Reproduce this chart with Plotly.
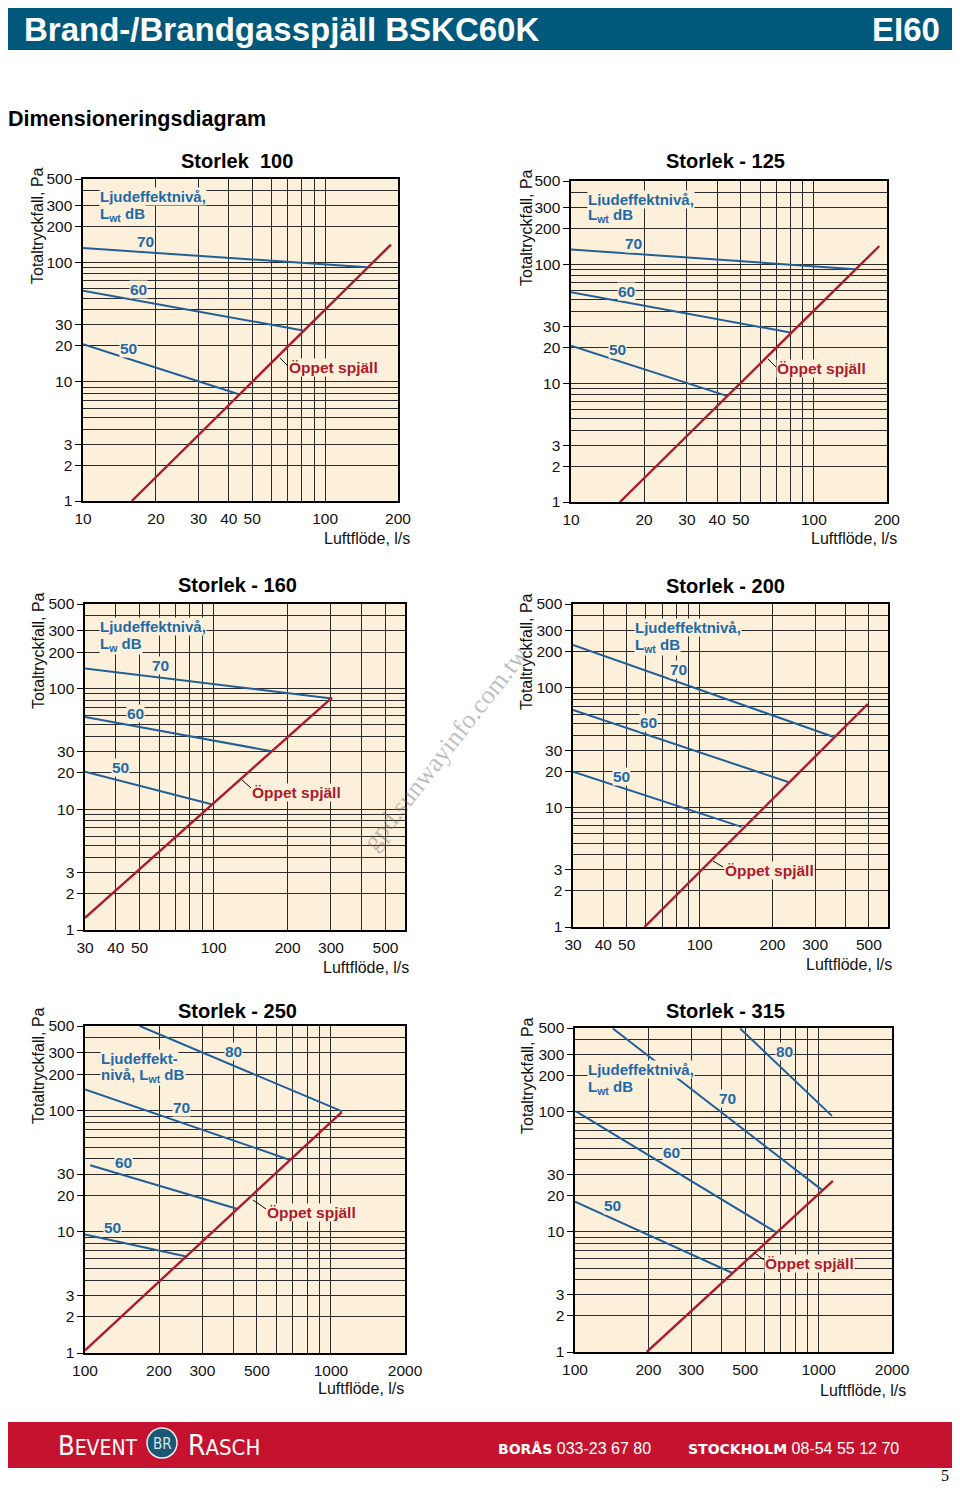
import math
import plotly.graph_objects as go

# The page keeps the browser's default 8px body margin, so the figure is
# sized to fill the 960x1493 window exactly and positions are page - 8.
OFF = 8
FW, FH = 960 - 2 * OFF, 1493 - 2 * OFF

# ---------------- data ----------------
TITLES = ["Storlek\u00a0\u00a0100", "Storlek - 125", "Storlek - 160",
          "Storlek - 200", "Storlek - 250", "Storlek - 315"]

Y_RANGE = [1, 500]
Y_TICKS = [1, 2, 3, 10, 20, 30, 100, 200, 300, 500]
Y_MINOR = [4, 5, 6, 7, 8, 9, 40, 50, 60, 70, 80, 90, 400]

X_RANGE_S = [10, 200]
X_TICKS_S = [10, 20, 30, 40, 50, 100, 200]
X_MINOR_S = [60, 70, 80, 90]
X_RANGE_M = [30, 600]
X_TICKS_M = [30, 40, 50, 100, 200, 300, 500]
X_MINOR_M = [60, 70, 80, 90, 400]
X_RANGE_L = [100, 2000]
X_TICKS_L = [100, 200, 300, 500, 1000, 2000]
X_MINOR_L = [400, 600, 700, 800, 900]

# Storlek 100  (flow l/s, pressure Pa)
S100_OPEN_Q = [15.9, 187]
S100_OPEN_P = [1.0, 141]
S100_L50_Q = [10, 44]
S100_L50_P = [20.6, 7.85]
S100_L60_Q = [10, 81]
S100_L60_P = [58, 26.9]
S100_L70_Q = [10, 149]
S100_L70_P = [132, 91]

# Storlek 125
S125_OPEN_Q = [15.9, 186]
S125_OPEN_P = [1.0, 142]
S125_L50_Q = [10, 43.8]
S125_L50_P = [20.6, 7.8]
S125_L60_Q = [10, 80]
S125_L60_P = [58, 26.6]
S125_L70_Q = [10, 148]
S125_L70_P = [133, 90.6]

# Storlek 160
S160_OPEN_Q = [30, 303]
S160_OPEN_P = [1.26, 84]
S160_L50_Q = [30, 98]
S160_L50_P = [20.4, 11.0]
S160_L60_Q = [30, 172]
S160_L60_P = [58, 30.2]
S160_L70_Q = [30, 302]
S160_L70_P = [146, 82.5]

# Storlek 200
S200_OPEN_Q = [59.2, 495]
S200_OPEN_P = [1.0, 73]
S200_L50_Q = [30, 149]
S200_L50_P = [19.8, 6.86]
S200_L60_Q = [30, 232]
S200_L60_P = [65, 16.3]
S200_L70_Q = [30, 356]
S200_L70_P = [227, 38.9]

# Storlek 250
S250_OPEN_Q = [100, 1106]
S250_OPEN_P = [1.05, 97.5]
S250_L50_Q = [100, 255]
S250_L50_P = [9.53, 6.28]
S250_L60_Q = [105, 414]
S250_L60_P = [35.4, 15.5]
S250_L70_Q = [100, 677]
S250_L70_P = [150, 39.4]
S250_L80_Q = [167, 1110]
S250_L80_P = [500, 98.6]

# Storlek 315
S315_OPEN_Q = [197, 1144]
S315_OPEN_P = [1.0, 26.6]
S315_L50_Q = [100, 440]
S315_L50_P = [17.9, 4.57]
S315_L60_Q = [101, 670]
S315_L60_P = [101, 9.91]
S315_L70_Q = [143, 1031]
S315_L70_P = [495, 22.4]
S315_L80_Q = [476, 1134]
S315_L80_P = [495, 92.7]

# ---------------- style ----------------
FONT = "Liberation Sans, Arial, Helvetica, sans-serif"
CREAM = "#fdf0db"
GRID = "#2a2a2a"
BLUE_LINE = "#215f99"
BLUE_TEXT = "#1f69a8"
RED = "#ab1b2c"
HEADER = "#00587a"
FOOTER = "#c5122e"


def px(x):
    return (x - OFF) / FW


def py(y):
    return 1 - (y - OFF) / FH


def cx(x):
    return min(max(px(x), 0.0), 1.0)


def cy(y):
    return min(max(py(y), 0.0), 1.0)


# subplot boxes in page pixels: x0, x1, y0(top), y1(bottom)
BOXES = [
    (83, 398, 179, 501),
    (571, 887, 181, 502),
    (85, 405, 604, 930),
    (573, 888, 604, 927),
    (85, 405, 1026, 1353),
    (575, 892, 1028, 1352),
]

CHARTS = [
    dict(xr=X_RANGE_S, xt=X_TICKS_S, xm=X_MINOR_S, open=(S100_OPEN_Q, S100_OPEN_P),
         lines=[(S100_L50_Q, S100_L50_P), (S100_L60_Q, S100_L60_P), (S100_L70_Q, S100_L70_P)]),
    dict(xr=X_RANGE_S, xt=X_TICKS_S, xm=X_MINOR_S, open=(S125_OPEN_Q, S125_OPEN_P),
         lines=[(S125_L50_Q, S125_L50_P), (S125_L60_Q, S125_L60_P), (S125_L70_Q, S125_L70_P)]),
    dict(xr=X_RANGE_M, xt=X_TICKS_M, xm=X_MINOR_M, open=(S160_OPEN_Q, S160_OPEN_P),
         lines=[(S160_L50_Q, S160_L50_P), (S160_L60_Q, S160_L60_P), (S160_L70_Q, S160_L70_P)]),
    dict(xr=X_RANGE_M, xt=X_TICKS_M, xm=X_MINOR_M, open=(S200_OPEN_Q, S200_OPEN_P),
         lines=[(S200_L50_Q, S200_L50_P), (S200_L60_Q, S200_L60_P), (S200_L70_Q, S200_L70_P)]),
    dict(xr=X_RANGE_L, xt=X_TICKS_L, xm=X_MINOR_L, open=(S250_OPEN_Q, S250_OPEN_P),
         lines=[(S250_L50_Q, S250_L50_P), (S250_L60_Q, S250_L60_P), (S250_L70_Q, S250_L70_P),
                (S250_L80_Q, S250_L80_P)]),
    dict(xr=X_RANGE_L, xt=X_TICKS_L, xm=X_MINOR_L, open=(S315_OPEN_Q, S315_OPEN_P),
         lines=[(S315_L50_Q, S315_L50_P), (S315_L60_Q, S315_L60_P), (S315_L70_Q, S315_L70_P),
                (S315_L80_Q, S315_L80_P)]),
]

# label positions (page px)
TITLE_POS = [(237, 161), (725, 161), (237, 585), (725, 586), (237, 1011), (725, 1011)]
YTITLE_POS = [(38, 226), (526, 228), (38, 651), (526, 652), (38, 1066), (527, 1076)]
XTITLE_POS = [(411, 538), (898, 539), (410, 967), (893, 964), (405, 1388), (907, 1390)]
LEGEND_TXT = [
    ("Ljudeffektnivå,", "L<sub>wt</sub> dB"),
    ("Ljudeffektnivå,", "L<sub>wt</sub> dB"),
    ("Ljudeffektnivå,", "L<sub>w</sub> dB"),
    ("Ljudeffektnivå,", "L<sub>wt</sub> dB"),
    ("Ljudeffekt-", "nivå, L<sub>wt</sub> dB"),
    ("Ljudeffektnivå,", "L<sub>wt</sub> dB"),
]
LEGEND_POS = [(99, 197, 214), (587, 199, 216), (99, 627, 644), (634, 628, 645),
              (100, 1058, 1075), (587, 1069, 1087)]
LEVEL_NAMES = ["50", "60", "70", "80"]
LEVEL_POS = [
    [(129, 348), (138, 289), (145, 241)],
    [(617, 349), (626, 291), (633, 243)],
    [(120, 767), (135, 714), (160, 666)],
    [(621, 776), (648, 722), (678, 669)],
    [(112, 1227), (123, 1162), (181, 1107), (233, 1051)],
    [(612, 1205), (671, 1152), (727, 1098), (784, 1051)],
]
OPEN_POS = [(288, 367), (776, 368), (251, 792), (724, 870), (266, 1212), (764, 1263)]
LEADERS = [((280, 358), (288, 366)), ((768, 359), (776, 367)), ((242, 780), (251, 788)),
           ((713, 861), (723, 867)), ((253, 1200), (266, 1209)), ((755, 1253), (764, 1260))]

fig = go.Figure()
annotations = []
shapes = []


def add_text(x, y, s, size, color="black", xanchor="left", bg=None, family=FONT,
             angle=0, yanchor="middle"):
    d = dict(xref="paper", yref="paper", x=px(x), y=py(y), text=s, showarrow=False,
             xanchor=xanchor, yanchor=yanchor, borderpad=0,
             font=dict(family=family, size=size, color=color), textangle=angle)
    if bg:
        d["bgcolor"] = bg
    annotations.append(d)


layout = dict()
for i, (box, ch) in enumerate(zip(BOXES, CHARTS)):
    n = "" if i == 0 else str(i + 1)
    x0, x1, yt, yb = box
    layout["xaxis" + n] = dict(
        domain=[px(x0), px(x1)], anchor="y" + n, type="log", automargin=False,
        range=[math.log10(ch["xr"][0]), math.log10(ch["xr"][1])],
        tickmode="array", tickvals=ch["xt"], ticktext=[str(v) for v in ch["xt"]],
        showgrid=True, gridcolor=GRID, gridwidth=1, zeroline=False,
        ticks="outside", ticklen=3, tickcolor="rgba(0,0,0,0)",
        showline=True, linecolor="black", linewidth=1.6, mirror=True,
        tickfont=dict(family=FONT, size=15.5, color="#111"),
        minor=dict(tickmode="array", tickvals=ch["xm"], showgrid=True, gridcolor=GRID,
                   gridwidth=1, ticks=""),
        fixedrange=True,
    )
    layout["yaxis" + n] = dict(
        domain=[py(yb), py(yt)], anchor="x" + n, type="log", automargin=False,
        range=[math.log10(Y_RANGE[0]), math.log10(Y_RANGE[1])],
        tickmode="array", tickvals=Y_TICKS, ticktext=[str(v) for v in Y_TICKS],
        showgrid=True, gridcolor=GRID, gridwidth=1, ticks="outside", ticklen=6,
        tickcolor="black", tickwidth=1, zeroline=False,
        showline=True, linecolor="black", linewidth=1.6, mirror=True,
        tickfont=dict(family=FONT, size=15.5, color="#111"),
        minor=dict(tickmode="array", tickvals=Y_MINOR, showgrid=True, gridcolor=GRID,
                   gridwidth=1, ticks=""),
        fixedrange=True,
    )
    xa, ya = "x" + n, "y" + n
    for q, p in ch["lines"]:
        fig.add_trace(go.Scatter(x=q, y=p, mode="lines", line=dict(color=BLUE_LINE, width=2),
                                 xaxis=xa, yaxis=ya, showlegend=False, hoverinfo="skip"))
    q, p = ch["open"]
    fig.add_trace(go.Scatter(x=q, y=p, mode="lines", line=dict(color=RED, width=2.4),
                             xaxis=xa, yaxis=ya, showlegend=False, hoverinfo="skip"))

    # texts
    tx, ty = TITLE_POS[i]
    add_text(tx, ty, "<b>" + TITLES[i] + "</b>", 20, "black", xanchor="center")
    yx, yy = YTITLE_POS[i]
    add_text(yx, yy, "Totaltryckfall, Pa", 16, "#111", xanchor="center", angle=-90)
    xx, xy = XTITLE_POS[i]
    add_text(xx, xy, "Luftflöde, l/s", 16, "#111", xanchor="right")
    lx, ly1, ly2 = LEGEND_POS[i]
    add_text(lx, ly1, "<b>" + LEGEND_TXT[i][0] + "</b>", 15, BLUE_TEXT, bg=CREAM)
    add_text(lx, ly2, "<b>" + LEGEND_TXT[i][1] + "</b>", 15, BLUE_TEXT, bg=CREAM)
    for name, (vx, vy) in zip(LEVEL_NAMES, LEVEL_POS[i]):
        add_text(vx, vy, "<b>" + name + "</b>", 15.5, BLUE_TEXT, xanchor="center", bg=CREAM)
    ox, oy = OPEN_POS[i]
    add_text(ox, oy, "<b>Öppet spjäll</b>", 15.5, RED, bg=CREAM)
    (a, b), (c, d) = LEADERS[i]
    shapes.append(dict(type="line", xref="paper", yref="paper", x0=px(a), y0=py(b),
                       x1=px(c), y1=py(d), line=dict(color="black", width=1)))

# header (kept inside the paper)
shapes.append(dict(type="rect", xref="paper", yref="paper", x0=cx(6), x1=cx(957),
                   y0=cy(50), y1=cy(3), fillcolor=HEADER, line=dict(width=0)))
add_text(23, 29, "<b>Brand-/Brandgasspjäll BSKC60K</b>", 33, "white")
add_text(941, 29, "<b>EI60</b>", 33, "white", xanchor="right")
add_text(7, 119, "<b>Dimensioneringsdiagram</b>", 21.5, "black")

# footer
shapes.append(dict(type="rect", xref="paper", yref="paper", x0=cx(6), x1=cx(957),
                   y0=cy(1468), y1=cy(1422), fillcolor=FOOTER, line=dict(width=0)))
LOGO_FONT = "Liberation Sans Narrow, DejaVu Sans Condensed, Arial Narrow, sans-serif"
add_text(57, 1445, "B<span style='font-size:21px'>EVENT</span>", 27, "white", family=LOGO_FONT)
add_text(187, 1445, "R<span style='font-size:22px'>ASCH</span>", 28, "white", family=LOGO_FONT)
shapes.append(dict(type="circle", xref="paper", yref="paper", x0=px(147), x1=px(177),
                   y0=py(1458), y1=py(1428), fillcolor="#1c5873",
                   line=dict(color="#e8eef2", width=1.5)))
add_text(162, 1444, "BR", 15, "#d6e6ee", xanchor="center", family=LOGO_FONT)
add_text(497, 1448,
         "<span style='font-family:DejaVu Sans;font-weight:bold;font-size:14px'>BORÅS</span> 033-23 67 80",
         16, "white")
add_text(687, 1448,
         "<span style='font-family:DejaVu Sans;font-weight:bold;font-size:14px'>STOCKHOLM</span> 08-54 55 12 70",
         16, "white")
add_text(950, 1475, "5", 16, "black", xanchor="right",
         family="Liberation Serif, DejaVu Serif, serif")

# watermark
add_text(445, 748, "gpd.sunwayinfo.com.tw", 26, "rgba(110,110,110,0.45)", xanchor="center",
         family="Liberation Serif, DejaVu Serif, serif", angle=-52)

fig.update_layout(
    width=FW, height=FH, margin=dict(l=0, r=0, t=0, b=0, autoexpand=False),
    paper_bgcolor="white", plot_bgcolor=CREAM,
    annotations=annotations, shapes=shapes, showlegend=False,
    font=dict(family=FONT),
    **layout,
)

fig.write_html("out.html", config={"displayModeBar": False, "staticPlot": True})
